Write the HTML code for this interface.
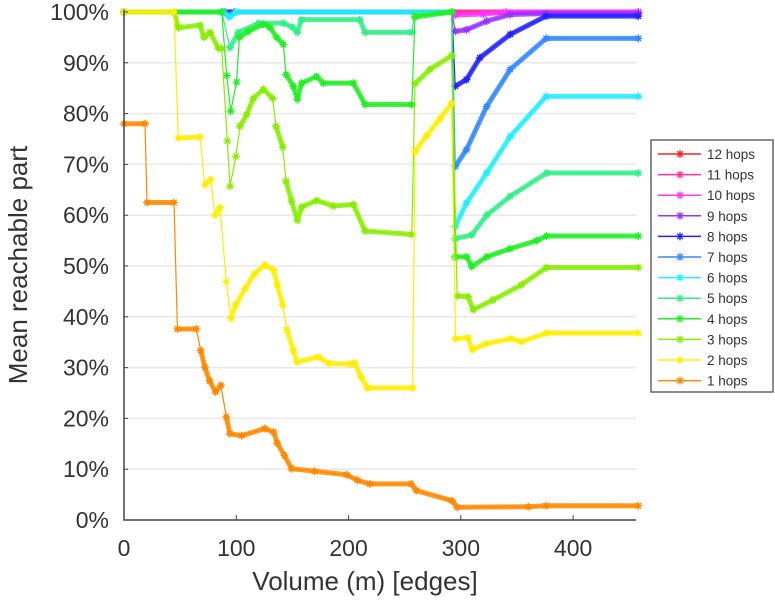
<!DOCTYPE html>
<html><head><meta charset="utf-8"><style>
html,body{margin:0;padding:0;background:#fff;}
svg{display:block;font-family:"Liberation Sans",Arial,sans-serif;}
</style></head><body>
<svg id="chart" width="775" height="600" viewBox="0 0 775 600">
<g id="grid"></g>
<g id="series"></g>
<g id="axes"></g>
<text x="365" y="590" font-size="26" fill="#333" text-anchor="middle">Volume (m) [edges]</text>
<text transform="translate(27,265) rotate(-90)" font-size="26" fill="#333" text-anchor="middle">Mean reachable part</text>
<g id="legend"></g>
</svg>
<script>
const xTicks=[0,100,200,300,400];
const yTicks=[0,10,20,30,40,50,60,70,80,90,100];
const seriesNames=["12 hops","11 hops","10 hops","9 hops","8 hops","7 hops","6 hops","5 hops","4 hops","3 hops","2 hops","1 hops"];
const seriesColors=["#ff2222","#ff3399","#ff33ff","#9933ff","#2222ff","#3388ff","#22eeff","#33ee88","#22ee22","#88ee00","#ffee00","#ff8800"];
const hops12x=[0,458], hops12y=[100,100];
const hops11x=[0,458], hops11y=[100,100];
const hops10x=[0,292,295,320,340,458], hops10y=[100,100,99.4,99.6,100,100];
const hops9x=[0,292,295,305,323,344,376,458], hops9y=[100,100,96.2,96.5,98.2,99.5,99.7,99.7];
const hops8x=[0,292,295,305,317,344,376,458], hops8y=[100,100,85.4,86.7,91,95.6,99.2,99.2];
const hops7x=[0,90,94,98,292,295,305,323,344,376,458], hops7y=[100,100,99.3,100,100,69.6,72.9,81.4,88.7,94.8,94.8];
const hops6x=[0,88,94,100,292,295,305,323,344,376,458], hops6y=[100,100,99,100,100,57.8,62.4,68.3,75.5,83.4,83.4];
const hops5x=[0,87,94.4,101.8,120,141.9,150,154.4,158,210,214.7,256.3,259,292,295,309.7,323,343.8,376.5,458], hops5y=[100,100,93,96,97.8,97.8,97,96,98.5,98.5,96,96,99.5,100,55.4,56.1,60,63.7,68.3,68.3];
const hops4x=[0,87,91.5,95,100.3,102.7,110.7,124.1,130,136,141.9,144.3,150.8,154.4,158.2,171.6,177.5,204.3,214.7,256.3,259.2,291.8,294.8,305.2,309.7,323,343.8,367.6,376.5,458], hops4y=[100,100,87.5,80.5,86.2,95,96.2,97.6,97,95,93.6,87.7,85.4,82.8,86,87.3,86,86,81.8,81.8,99,100,51.8,51.8,49.9,51.8,53.4,55,55.9,55.9];
const hops3x=[44.5,48.4,67.7,71.2,76.6,84,87,92,94.4,99.7,103.3,109.3,115.2,124.1,132.4,135.4,141.3,144.3,149.3,154.4,158.2,171.6,186.5,204.3,214.7,256.3,259.2,272.5,291.8,296.8,306.3,311,328.6,354,376.2,458], hops3y=[100,96.9,97.4,95,96,92.9,92.8,74.6,65.7,71.6,77.5,79.8,83,84.8,83,77.5,73.4,66.7,62.7,59,61.6,62.9,61.8,62.1,56.9,56.2,85.9,88.7,91.4,44.1,44,41.4,43.3,46.3,49.7,49.7];
const hops2x=[0,44.5,48.4,67.7,72,77.2,81,85.5,91.1,95.2,99.4,108,115.9,125.4,133.3,136.5,141.3,145,150.8,154,173,182.5,201.6,205.4,211,216.8,257,259.2,269.6,281.4,291.8,295.2,306.3,310.2,322.2,344.4,354,376.2,458], hops2y=[100,100,75.2,75.4,66,67,60,61.5,46.9,39.7,42.3,45.6,48.4,50.2,49.2,46.3,42.3,37.5,33.4,31.1,32.1,30.8,30.7,30.9,28.2,26,26,72.5,75.7,79,82,35.7,35.9,33.5,34.7,35.7,35.1,36.8,36.8];
const hops1x=[0,18.7,20.5,44.5,47.6,64.4,68.3,72,76.2,81.6,86.3,91.1,94.3,104.8,125.4,133.3,136.5,142.9,149.2,169.8,198.4,208,219,255.6,260.3,292,296.8,360,376,458], hops1y=[78,78,62.5,62.5,37.6,37.6,33.4,30.1,27.4,25.2,26.5,20.3,17,16.6,18,17.3,15.1,12.7,10.1,9.6,8.9,7.8,7.1,7.1,5.8,3.8,2.5,2.6,2.8,2.8];
const allX=[hops12x,hops11x,hops10x,hops9x,hops8x,hops7x,hops6x,hops5x,hops4x,hops3x,hops2x,hops1x];
const allY=[hops12y,hops11y,hops10y,hops9y,hops8y,hops7y,hops6y,hops5y,hops4y,hops3y,hops2y,hops1y];

const L=124,R=636,T=12,B=520,XMAX=456;
const xs=v=>L+v*(R-L)/XMAX;
const ys=v=>B-v*(B-T)/100;
const NS="http://www.w3.org/2000/svg";
function mk(tag,attrs,parent){const e=document.createElementNS(NS,tag);for(const k in attrs)e.setAttribute(k,attrs[k]);parent.appendChild(e);return e;}
const grid=document.getElementById('grid'),axes=document.getElementById('axes'),sg=document.getElementById('series'),lg=document.getElementById('legend');
yTicks.forEach(t=>{
  if(t>0){const g=mk('line',{x1:L,x2:R,y1:ys(t),y2:ys(t),stroke:'#e8e8e8','stroke-width':1.5},grid);
  
  }
  const tk=mk('line',{x1:L,x2:L+4,y1:ys(t),y2:ys(t),stroke:'#444','stroke-width':1},axes);
  
  
  const lb=mk('text',{x:109,y:ys(t)+8,'font-size':23,fill:'#333','text-anchor':'end'},axes);
  lb.textContent=t+'%';
  
  
});
xTicks.forEach(t=>{
  const tk=mk('line',{x1:xs(t),x2:xs(t),y1:B,y2:B-5,stroke:'#444','stroke-width':1},axes);
  
  
  const lb=mk('text',{x:xs(t),y:556,'font-size':23,fill:'#333','text-anchor':'middle'},axes);
  lb.textContent=t;
  
  
});
const ax=mk('path',{d:`M${L},${T-2}V${B}H${R}`,fill:'none',stroke:'#444','stroke-width':1.5},axes);



function star(g,x,y,c,r){
  mk('path',{d:`M${x-r},${y}H${x+r}M${x},${y-r}V${y+r}M${x-r*0.7},${y-r*0.7}L${x+r*0.7},${y+r*0.7}M${x-r*0.7},${y+r*0.7}L${x+r*0.7},${y-r*0.7}`,stroke:c,'stroke-width':1.3,fill:'none'},g);
}
allX.forEach((X,i)=>{
  const Y=allY[i],c=seriesColors[i];
  const g=mk('g',{},sg);
  
  
  let d='';
  for(let j=0;j<X.length;j++){d+=(j?'L':'M')+xs(X[j]).toFixed(1)+','+ys(Y[j]).toFixed(1);}
  mk('path',{d:d,fill:'none',stroke:c,'stroke-width':1.2},g);
  for(let j=1;j<X.length;j++){
    const dx=Math.abs(xs(X[j])-xs(X[j-1])),dy=Math.abs(ys(Y[j])-ys(Y[j-1]));
    if(dy<3*dx+8){
      mk('line',{x1:xs(X[j-1]),y1:ys(Y[j-1]),x2:xs(X[j]),y2:ys(Y[j]),stroke:c,'stroke-width':5,'stroke-opacity':0.85,'stroke-linecap':'round'},g);
    }
  }
  for(let j=0;j<X.length;j++) star(g,xs(X[j]),ys(Y[j]),c,4);
});
const box=mk('rect',{x:651,y:140,width:122,height:252,fill:'#fff',stroke:'#666','stroke-width':1.5},lg);


seriesNames.forEach((n,i)=>{
  const y=154+i*20.6;
  const g=mk('g',{},lg);
  
  
  mk('line',{x1:658,x2:701,y1:y,y2:y,stroke:seriesColors[i],'stroke-width':1.5},g);
  star(g,680,y,seriesColors[i],4);
  const t=mk('text',{x:707,y:y+5,'font-size':13.5,fill:'#333'},g);
  t.textContent=n;
});
</script>
</body></html>
